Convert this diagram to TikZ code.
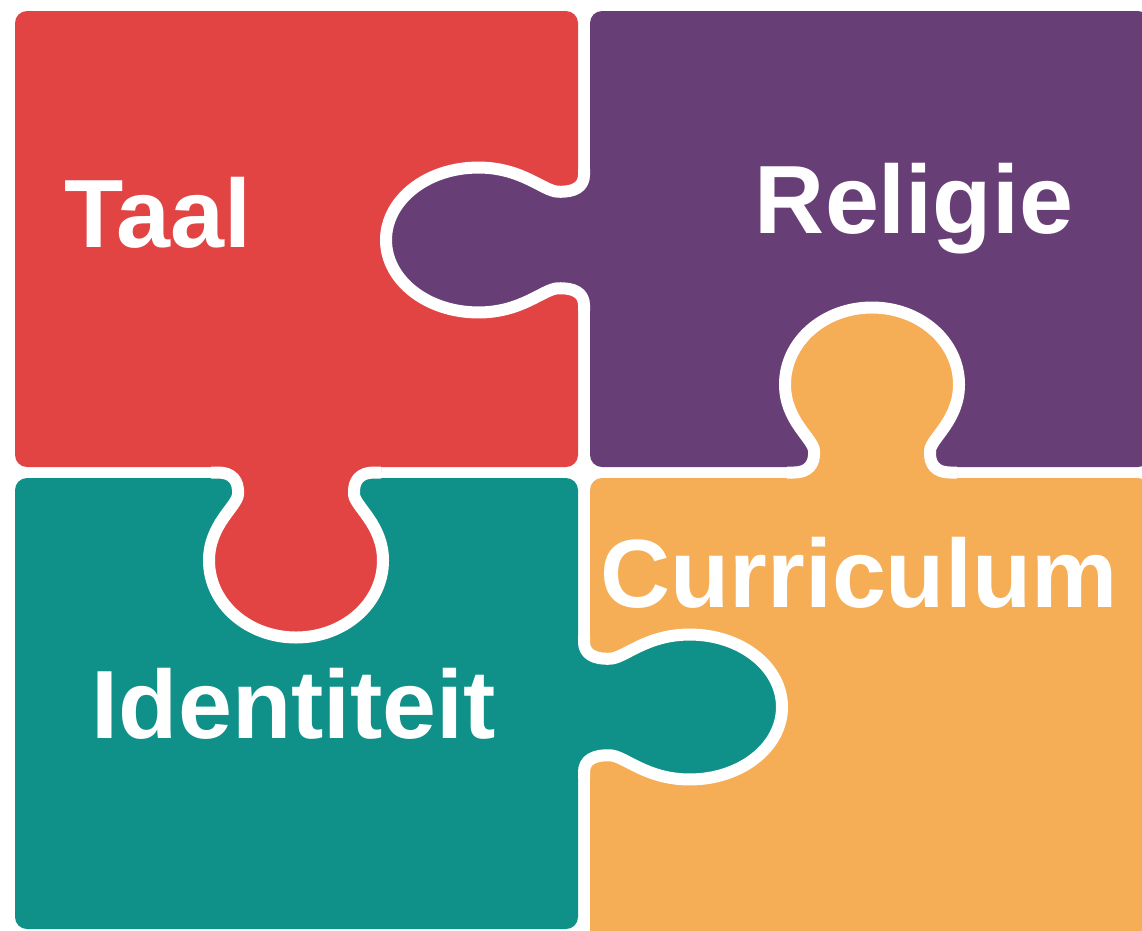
\documentclass[tikz,border=0pt]{standalone}
\usepackage{fontspec}
\newfontfamily\puzzlefont{Liberation Sans}
\definecolor{taalred}{HTML}{E24444}
\definecolor{religiepurple}{HTML}{673F76}
\definecolor{identiteitteal}{HTML}{0F9189}
\definecolor{curriculumorange}{HTML}{F5AD56}
\tikzset{
  gap/.style={white, line width=12pt, line join=round},
  word/.style={text=white, font=\puzzlefont\bfseries\fontsize{97}{100}\selectfont, inner sep=0pt, anchor=base}
}
\newcommand{\knobline}{(-85,0) -- (-78,0) .. controls (-64,0) and (-57,8) .. (-58,22)
  .. controls (-59,34) and (-87,52) .. (-87,88) .. controls (-87,131) and (-48,165) .. (0,165)
  .. controls (48,165) and (87,131) .. (87,88) .. controls (87,52) and (59,34) .. (58,22)
  .. controls (57,8) and (64,0) .. (78,0) -- (85,0)}
\newcommand{\knob}[2]{%
  \begin{scope}[#1]
    \fill[#2] (-85,-14) -- \knobline -- (85,-14) -- cycle;
    \draw[gap] \knobline;
  \end{scope}}

\begin{document}
\begin{tikzpicture}[x=1pt, y=-1pt]
\useasboundingbox (0,0) rectangle (1142,930);
\clip (0,0) rectangle (1142,930);

% the four pieces
\fill[taalred, rounded corners=12] (15,11) rectangle (578,467);
\fill[religiepurple, rounded corners=12] (590,11) rectangle (1150,467);
\fill[identiteitteal, rounded corners=12] (15,478) rectangle (578,929);
\fill[curriculumorange, rounded corners=12] (590,478) rectangle (1150,945);

% knobs
\knob{shift={(584,240)}, x={(0pt,-0.833pt)}, y={(-1.2pt,0pt)}}{religiepurple}
\knob{shift={(296,472.5)}}{taalred}
\knob{shift={(872,472.5)}, y={(0pt,1pt)}}{curriculumorange}
\knob{shift={(584,707)}, x={(0pt,-0.833pt)}, y={(1.2pt,0pt)}}{identiteitteal}

\node[word] (taal) at (158,247) {Taal};
\node[word] (religie) at (914,233) {Religie};
\node[word] (curriculum) at (859,607) {Curriculum};
\node[word] (identiteit) at (294,738) {Identiteit};
\end{tikzpicture}
\end{document}
